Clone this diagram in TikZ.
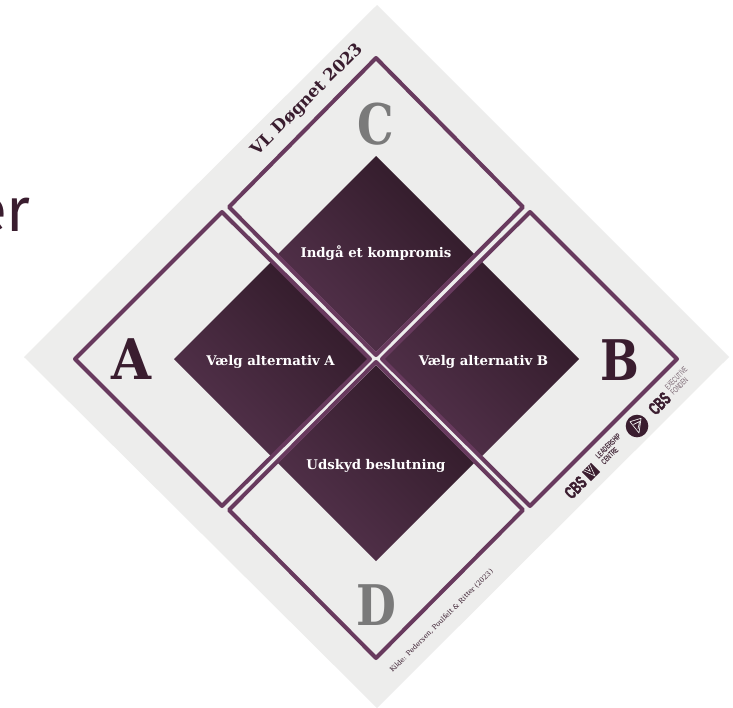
\documentclass[tikz,border=0pt]{standalone}
\usepackage{fontspec}
\setmainfont{DejaVu Serif}
\newfontfamily\titlefont{Fira Sans}
\newfontfamily\logofont[FakeStretch=0.6]{Liberation Sans}
\newfontfamily\logoheavy[FakeStretch=0.6,FakeBold=2]{Liberation Sans Bold}
\definecolor{panel}{HTML}{EDEDEC}
\definecolor{frameline}{HTML}{683A5E}
\definecolor{plumdark}{HTML}{301A28}
\definecolor{plummid}{HTML}{43263D}
\definecolor{plumlight}{HTML}{54324C}
\definecolor{inkdark}{HTML}{3A1D2F}
\definecolor{lettergray}{HTML}{7A7A7A}
\tikzset{
  framebox/.style={draw=frameline,line width=4pt,line join=round},
  plumfill/.style={shading=axis,bottom color=plumlight,middle color=plummid,top color=plumdark,shading angle=-45},
  choicetext/.style={text=white,font=\fontsize{13.3}{15}\selectfont\bfseries,inner sep=0pt},
  bigletter/.style={font=\fontsize{56}{60}\selectfont\bfseries,inner sep=0pt},
  cbstext/.style={text=inkdark,inner sep=0pt,rotate=45,font=\logoheavy\fontsize{18}{20}\selectfont},
  smalllogo/.style={inner sep=0pt,rotate=45,align=left},
}
\begin{document}
\begin{tikzpicture}[x=1pt,y=-1pt]
\useasboundingbox (0,0) rectangle (733,707);
\fill[white] (0,0) rectangle (733,707);
% title fragment
\node[inner sep=0pt,anchor=base east,text=inkdark,font=\titlefont\fontsize{62}{64}\selectfont] (title) at (31,231) {er};
% panel
\fill[panel] (377,5) -- (729,357) -- (377,708) -- (24,357) -- cycle;
% dark diamonds
\shade[plumfill] (376,156) -- (474,254) -- (376,352) -- (278,254) -- cycle;
\shade[plumfill] (272,261) -- (370,359) -- (272,457) -- (174,359) -- cycle;
\shade[plumfill] (481,261) -- (579,359) -- (481,457) -- (383,359) -- cycle;
\shade[plumfill] (376,365) -- (474,463) -- (376,561) -- (278,463) -- cycle;
% frames
\draw[framebox] (376,58) -- (523,207) -- (376,355) -- (229,207) -- cycle;
\draw[framebox] (222,212) -- (370,359) -- (222,506) -- (75,359) -- cycle;
\draw[framebox] (530,212) -- (677,359) -- (530,506) -- (382,359) -- cycle;
\draw[framebox] (376,362) -- (523,510) -- (376,658) -- (229,510) -- cycle;
% labels
\node[choicetext] (cC) at (376,253) {Indgå et kompromis};
\node[choicetext] (cA) at (270.5,362) {Vælg alternativ A};
\node[choicetext] (cB) at (483.5,362) {Vælg alternativ B};
\node[choicetext] (cD) at (376,466) {Udskyd beslutning};
\node[bigletter,text=inkdark] (lA) at (131,359) {\scalebox{.92}[1]{A}};
\node[bigletter,text=inkdark] (lB) at (620,360) {\scalebox{.82}[1]{B}};
\node[bigletter,text=lettergray] (lC) at (376,124) {\scalebox{.82}[1]{C}};
\node[bigletter,text=lettergray] (lD) at (376,605) {\scalebox{.82}[1]{D}};
\node[rotate=45,inner sep=0pt,text=inkdark,font=\fontsize{16.7}{19}\selectfont\bfseries] (vl) at (307.5,100) {VL Døgnet 2023};
\node[rotate=45,inner sep=0pt,text=inkdark,font=\fontsize{6.9}{8}\selectfont] (src) at (441.5,621) {Kilde: Pedersen, Poulfelt \& Ritter (2023)};
% logos
\node[cbstext] (cbs1) at (575.5,487.5) {CBS};
\begin{scope}[shift={(591,472)},rotate=45]
 \fill[inkdark] (-6.5,6.5) rectangle (6.5,-6.5);
 \draw[panel,line width=0.6pt] (-4.5,-6.5) -- (0,5.5) -- (4.5,-6.5) (-2,-6.5) -- (0,-1) -- (2,-6.5);
\end{scope}
\node[smalllogo,text=inkdark,font=\logofont\bfseries\fontsize{8.2}{8}\selectfont] (lead) at (611,449) {LEADERSHIP\\CENTRE};
\fill[inkdark] (637,426) circle (11.3);
\draw[panel,line width=0.7pt,line join=round] (630,421.7) -- (641,418.3) -- (639,433) -- cycle (633.5,424.5) -- (639.5,421.5) -- (638,429);
\node[cbstext] (cbs2) at (659.5,403.5) {CBS};
\node[smalllogo,text=inkdark!70,font=\logofont\fontsize{8.2}{8}\selectfont] (exec) at (679,381) {EXECUTIVE\\FONDEN};
\end{tikzpicture}
\end{document}
